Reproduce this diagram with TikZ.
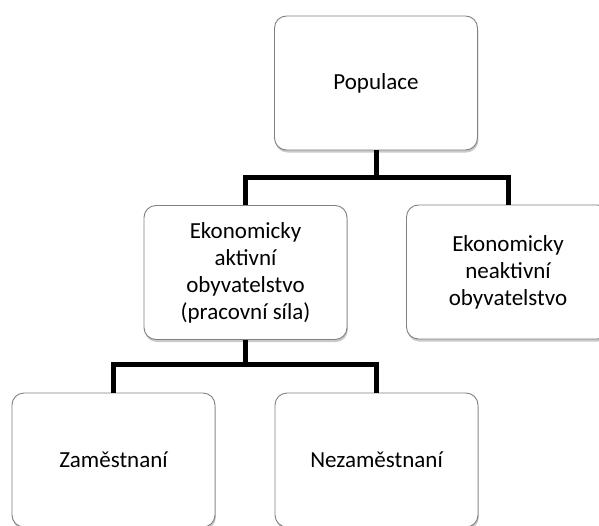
\documentclass[tikz,border=0pt]{standalone}
\usepackage{fontspec}
\setmainfont{Carlito}
\usetikzlibrary{shadows}
\begin{document}
\begin{tikzpicture}[x=1pt,y=-1pt,
  box/.style={draw=black!50, line width=0.9pt, fill=white, rounded corners=12pt,
    minimum width=203pt, minimum height=134pt, inner sep=0pt, align=center,
    font=\fontsize{23}{27}\selectfont,
    drop shadow={shadow xshift=0.8pt, shadow yshift=-2.5pt, opacity=0.35, fill=black!60}},
  conn/.style={draw=black, line width=5pt, line join=miter}]
\useasboundingbox (0,0) rectangle (599,525);
\clip (0,0) rectangle (599,525);
\node[box] (pop) at (376,83) {Populace};
\node[box] (ml) at (245.5,272.5) {Ekonomicky\\aktivní\\obyvatelstvo\\(pracovní síla)};
\node[box] (mr) at (508,272) {Ekonomicky\\neaktivní\\obyvatelstvo};
\node[box] (bl) at (113.5,460) {Zaměstnaní};
\node[box] (br) at (376.5,460) {Nezaměstnaní};
\draw[conn] (pop.south) -- ++(0,27) coordinate (j1);
\draw[conn] (ml.north) |- (j1) -| (mr.north);
\draw[conn] (ml.south) -- ++(0,25) coordinate (j2);
\draw[conn] (bl.north) |- (j2) -| (br.north);
\end{tikzpicture}
\end{document}
